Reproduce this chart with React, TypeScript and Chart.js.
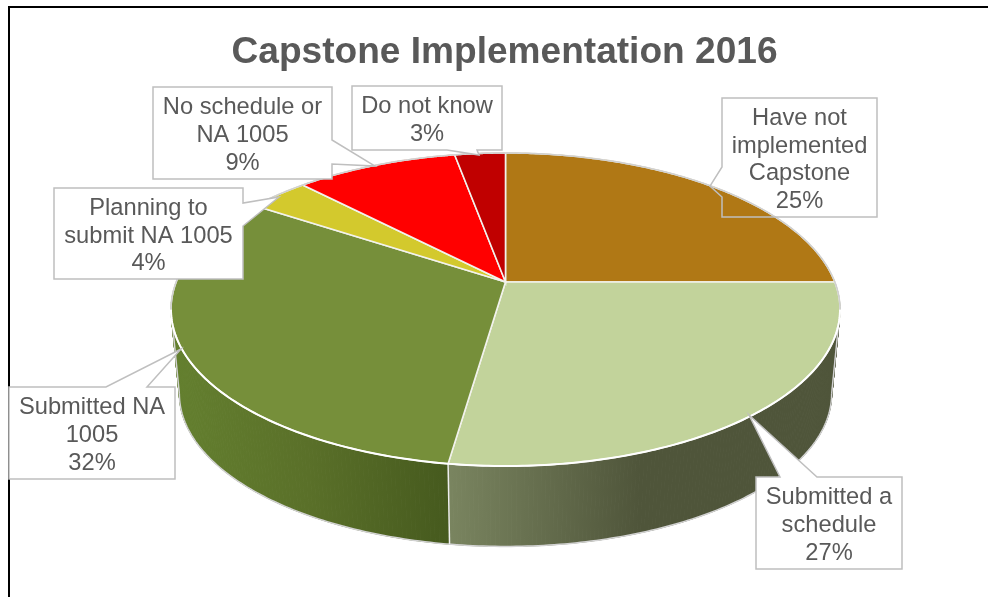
import React, { useEffect, useRef } from "react";
import { Chart, registerables } from "chart.js";

Chart.register(...registerables);

const categories = ["Have not implemented Capstone", "Submitted a schedule", "Submitted NA 1005", "Planning to submit NA 1005", "No schedule or NA 1005", "Do not know"];
const values = [25, 27.3, 32, 3.5, 9.3, 2.9];
const shownPercents = ["25%", "27%", "32%", "4%", "9%", "3%"];
const labelLines = [
  ["Have not", "implemented", "Capstone"],
  ["Submitted a", "schedule"],
  ["Submitted NA", "1005"],
  ["Planning to", "submit NA 1005"],
  ["No schedule or", "NA 1005"],
  ["Do not know"],
];
const topColors = ["#b07815", "#c2d39b", "#768f3a", "#d3c92d", "#ff0000", "#c00000"];

const TEXT = "#595959";
const FONT = "'Liberation Sans', Arial, sans-serif";

// Perspective of the pie disc
const CX = 505.5, CY = 282, AX = 329.3, BY = 151.7, K = 0.1757;
const LOW_SCALE = 0.975, LOW_DROP = 85;
const WIDEST = Math.asin(K);

const top = (a: number) => {
  const u = Math.cos(a), v = Math.sin(a), d = 1 - K * v;
  return [CX + (AX * u) / d, CY + (BY * v) / d];
};
const low = (a: number) => {
  const [x, y] = top(a);
  return [CX + LOW_SCALE * (x - CX), CY + LOW_DROP + LOW_SCALE * (y - CY)];
};

// Callout geometry: box x,y,w,h; pointer edge (0 top,1 right,2 bottom,3 left), pointer points clockwise
const callouts = [
  { box: [722, 98, 155, 119], edge: 3, ptr: [[722, 197], [710, 186], [722, 167]], fill: false },
  { box: [756, 477, 146, 92], edge: 0, ptr: [[780, 477], [749, 415], [817, 477]], fill: true },
  { box: [9, 387, 166, 92], edge: 0, ptr: [[106, 387], [181, 349], [147, 387]], fill: true },
  { box: [54, 188, 189, 91], edge: 1, ptr: [[243, 203], [279, 197], [243, 226]], fill: true },
  { box: [153, 87, 179, 92], edge: 1, ptr: [[332, 140], [375, 166], [332, 164]], fill: true },
  { box: [352, 86, 150, 64], edge: 2, ptr: [[477, 150], [479, 155], [447, 150]], fill: true },
];

const trace = (ctx: CanvasRenderingContext2D, fn: (a: number) => number[], a0: number, a1: number, n: number) => {
  ctx.beginPath();
  for (let s = 0; s <= n; s++) {
    const [x, y] = fn(a0 + ((a1 - a0) * s) / n);
    s ? ctx.lineTo(x, y) : ctx.moveTo(x, y);
  }
};

const pie3d = {
  id: "pie3d",
  beforeDatasetsDraw(chart: any) {
    const ctx = chart.ctx as CanvasRenderingContext2D;
    const arcs = chart.getDatasetMeta(0).data;
    const STEPS = 160;

    // Frame
    ctx.save();
    ctx.fillStyle = "#000000";
    ctx.fillRect(8, 6, 980, 2);
    ctx.fillRect(8, 6, 2, 591);

    // Walls, swept from the upper rim to the lower rim
    arcs.forEach((arc: any, i: number) => {
      const a0 = arc.startAngle, a1 = arc.endAngle;
      let style: any = arc.options.backgroundColor;
      if (i === 1) {
        const g = ctx.createLinearGradient(447, 0, 840, 0);
        g.addColorStop(0, "#7a8560");
        g.addColorStop(0.49, "#4f553a");
        g.addColorStop(1, "#4f553a");
        style = g;
      } else if (i === 2) {
        const g = ctx.createLinearGradient(170, 0, 447, 0);
        g.addColorStop(0, "#64802f");
        g.addColorStop(0.5, "#5a7029");
        g.addColorStop(1, "#465a1e");
        style = g;
      }
      ctx.fillStyle = style;
      ctx.strokeStyle = style;
      ctx.lineWidth = 1;
      for (let s = 0; s < STEPS; s++) {
        const b0 = a0 + ((a1 - a0) * s) / STEPS, b1 = a0 + ((a1 - a0) * (s + 1)) / STEPS;
        const p = [top(b0), top(b1), low(b1), low(b0)];
        ctx.beginPath();
        ctx.moveTo(p[0][0], p[0][1]);
        ctx.lineTo(p[1][0], p[1][1]);
        ctx.lineTo(p[2][0], p[2][1]);
        ctx.lineTo(p[3][0], p[3][1]);
        ctx.closePath();
        ctx.fill();
        ctx.stroke();
      }
    });
    // Wall outline
    ctx.strokeStyle = "#d2d2d2";
    ctx.lineWidth = 1.5;
    trace(ctx, low, WIDEST, Math.PI - WIDEST, 200);
    ctx.stroke();
    [WIDEST, Math.PI - WIDEST].forEach((a) => {
      const [x0, y0] = top(a), [x1, y1] = low(a);
      ctx.beginPath();
      ctx.moveTo(x0, y0);
      ctx.lineTo(x1, y1);
      ctx.stroke();
    });
    // Edge between the two front walls
    const seam = arcs[1].endAngle;
    const [sx0, sy0] = top(seam), [sx1, sy1] = low(seam);
    ctx.strokeStyle = "#eeeeee";
    ctx.beginPath();
    ctx.moveTo(sx0, sy0);
    ctx.lineTo(sx1, sy1);
    ctx.stroke();

    // Top faces
    arcs.forEach((arc: any) => {
      const a0 = arc.startAngle, a1 = arc.endAngle;
      ctx.beginPath();
      ctx.moveTo(CX, CY);
      for (let s = 0; s <= STEPS; s++) {
        const [x, y] = top(a0 + ((a1 - a0) * s) / STEPS);
        ctx.lineTo(x, y);
      }
      ctx.closePath();
      ctx.fillStyle = arc.options.backgroundColor;
      ctx.fill();
      ctx.strokeStyle = "#f2f2ec";
      ctx.lineWidth = 1.6;
      ctx.stroke();
    });
    // Front rim
    ctx.strokeStyle = "#ffffff";
    ctx.lineWidth = 2;
    trace(ctx, top, WIDEST, Math.PI - WIDEST, 200);
    ctx.stroke();
    // Back rim
    ctx.strokeStyle = "#d0d0d0";
    ctx.lineWidth = 1.5;
    trace(ctx, top, Math.PI - WIDEST, 2 * Math.PI + WIDEST, 300);
    ctx.stroke();

    // Callouts
    callouts.forEach((c, i) => {
      const [x, y, w, h] = c.box;
      const corners = [[x + w, y], [x + w, y + h], [x, y + h], [x, y]];
      ctx.beginPath();
      ctx.moveTo(x, y);
      corners.forEach((p, e) => {
        if (e === c.edge) c.ptr.forEach((q) => ctx.lineTo(q[0], q[1]));
        ctx.lineTo(p[0], p[1]);
      });
      ctx.closePath();
      if (c.fill) {
        ctx.fillStyle = "#ffffff";
        ctx.fill();
      }
      ctx.strokeStyle = "#bfbfbf";
      ctx.lineWidth = 1.5;
      ctx.stroke();

      const lines = [...labelLines[i], shownPercents[i]];
      ctx.fillStyle = TEXT;
      ctx.font = `23.7px ${FONT}`;
      ctx.textAlign = "center";
      ctx.textBaseline = "middle";
      const LH = 27.7;
      const y0 = y + h / 2 + 2.5 - ((lines.length - 1) * LH) / 2;
      lines.forEach((t, n) => ctx.fillText(t, x + w / 2, y0 + n * LH));
    });
    ctx.restore();
    return false;
  },
};

export default function App() {
  const ref = useRef<HTMLCanvasElement>(null);
  useEffect(() => {
    document.body.style.margin = "0";
    const chart = new Chart(ref.current!, {
      type: "pie",
      data: {
        labels: categories,
        datasets: [{ data: values, backgroundColor: topColors, borderWidth: 0 }],
      },
      options: {
        animation: false,
        responsive: false,
        events: [],
        layout: { padding: { left: 21 } },
        plugins: {
          legend: { display: false },
          tooltip: { enabled: false },
          title: {
            display: true,
            text: "Capstone Implementation 2016",
            color: TEXT,
            font: { family: FONT, size: 37.1, weight: "bold" },
            padding: { top: 31, bottom: 10 },
          },
        },
      },
      plugins: [pie3d],
    } as any);
    return () => chart.destroy();
  }, []);
  return <canvas ref={ref} width={988} height={597} style={{ display: "block" }} />;
}
